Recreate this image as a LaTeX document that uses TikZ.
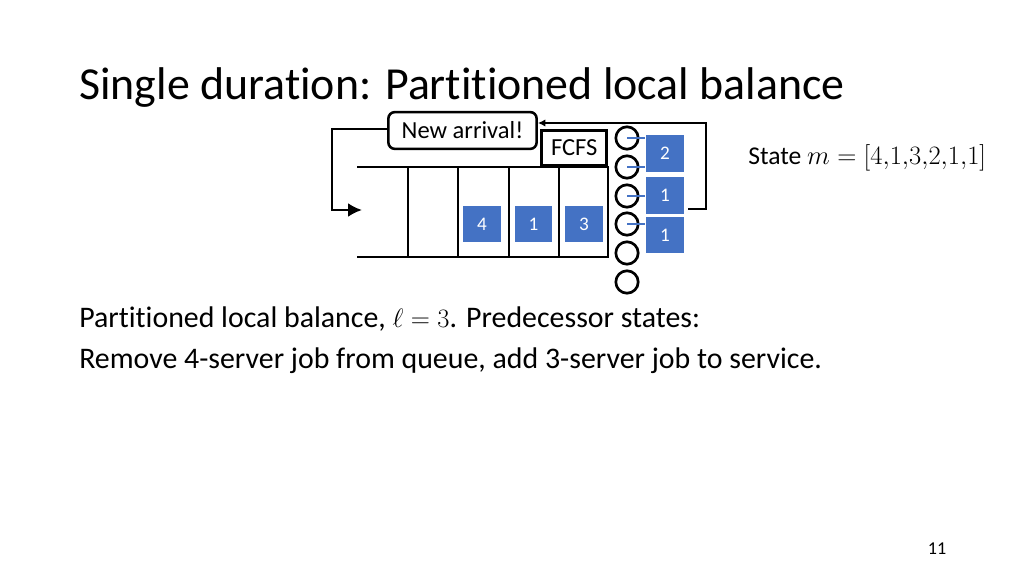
\documentclass[tikz,border=0pt]{standalone}
\usepackage{fontspec}
\setmainfont{Carlito}[Ligatures=CommonOff]
\usetikzlibrary{arrows.meta,positioning}
\definecolor{jobblue}{RGB}{68,114,196}
\tikzset{>={Latex[length=7pt,width=7pt]},%
  job/.style={fill=jobblue,text=white,minimum width=35.6pt,
    minimum height=33.8pt,inner sep=0pt,font=\fontsize{18}{20}\selectfont},
  srv/.style={circle,draw,line width=2.5pt,minimum size=21pt,inner sep=0pt},
  wire/.style={jobblue,line width=1.9pt}}

\begin{document}
\begin{tikzpicture}[x=0.9375pt,y=-0.9375pt,line width=2.4pt]
    \useasboundingbox (0,0) rectangle (1024,576);
    \node[anchor=base west,inner sep=0pt,font=\fontsize{43}{48}\selectfont] (title) at (78,100) {Single duration: Partitioned local balance};
    % queue
    \draw (357,167) -- (608,167) -- (608,257) -- (357,257);
    \foreach \x in {408,458,509,559} {\draw (\x,167) -- (\x,257);};
    \node[draw,anchor=south east,minimum width=61pt,minimum height=33pt,
      inner sep=1pt,font=\fontsize{23}{24}\selectfont] (fcfs) at (608,167) {FCFS};
    \node[draw,rounded corners=6pt,minimum width=139pt,minimum height=34.5pt,
      inner sep=2pt,font=\fontsize{23}{24}\selectfont,fill=white] (arr) at (462.5,130.5) {New arrival!};
    \node[job] (q4) at (482,224) {4};
    \node[job] (q1) at (533.5,224) {1};
    \node[job] (q3) at (584,224) {3};
    % servers
    \foreach \i/\y in {1/138,2/167,3/196,4/224,5/253,6/282} {\node[srv] (s\i) at (627,\y) {};};
    \node[job] (b2) at (665,153.5) {2};
    \node[job] (b1) at (665,195.5) {1};
    \node[job] (b1b) at (665,235) {1};
    \foreach \s/\b in {s1/b2,s2/b2,s3/b1,s4/b1b} {\draw[wire] (\s.center) -- (\b.west |- \s.center);};
    % loop back to arrival
    \coordinate (out) at (688,209);
    \draw[->] (out) -| (706,123) -- (arr.east |- 0,123);
    \draw[-{Latex[length=13pt,width=13pt]}] (arr.west |- 0,129) -| (332,210) -- (362,210);
    \node[anchor=base west,inner sep=0pt,font=\fontsize{24}{28}\selectfont] (state) at (747,165) {State $m=[4{,}1{,}3{,}2{,}1{,}1]$};
    % text
    \node[anchor=base west,inner sep=0pt,font=\fontsize{28}{32}\selectfont] (line1) at (78,327) {Partitioned local balance, $\ell=3$. Predecessor states:};
    \node[anchor=base west,inner sep=0pt,font=\fontsize{28}{32}\selectfont] (line2) at (78,368) {Remove 4-server job from queue, add 3-server job to service.};
    \node[font=\fontsize{17}{18}\selectfont] (page) at (937,549) {11};
\end{tikzpicture}
\end{document}
